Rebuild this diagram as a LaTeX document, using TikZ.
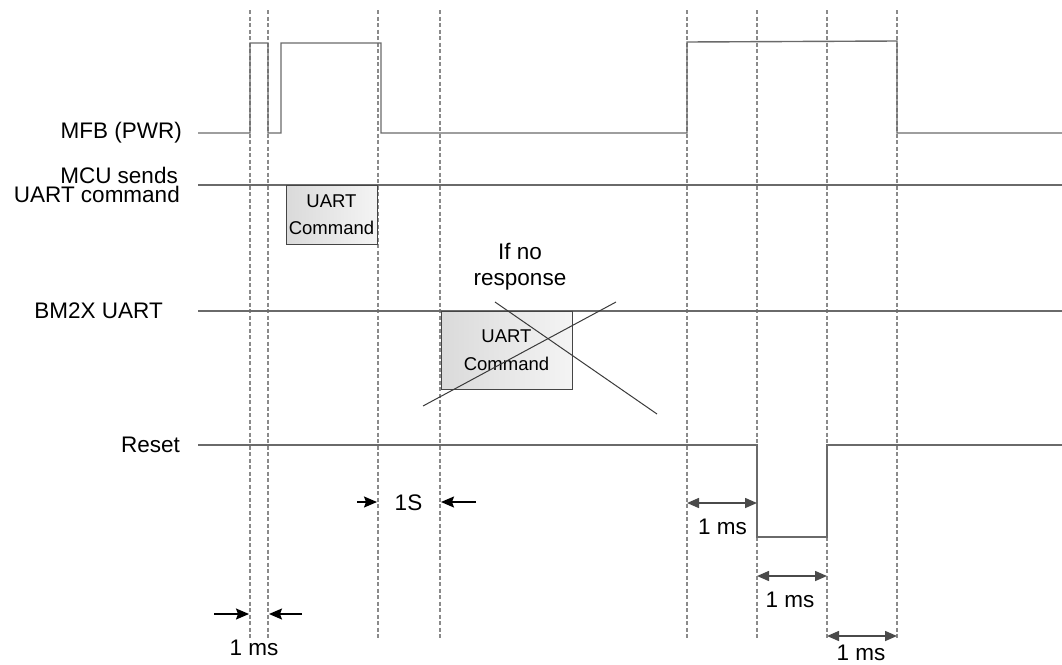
\documentclass[tikz,border=0pt]{standalone}
\usepackage{fontspec}
\setmainfont{Liberation Sans}
\usetikzlibrary{arrows.meta}
\definecolor{sig}{HTML}{6A6A6A}
\definecolor{dsh}{HTML}{8A8A8A}
\definecolor{dimc}{HTML}{4A4A4A}
\definecolor{bxl}{HTML}{DADADA}
\definecolor{bxr}{HTML}{F4F4F4}
\definecolor{bxd}{HTML}{454545}
\definecolor{crs}{HTML}{3A3A3A}
\begin{document}
\begin{tikzpicture}[x=1pt,y=-1pt,
  sigline/.style={draw=sig,line width=1.4pt},
  gridline/.style={draw=dsh,line width=1.3pt,dash pattern=on 4pt off 2.5pt},
  lbl/.style={font=\fontsize{22.5}{19.5}\selectfont,inner sep=0pt,align=right},
  txt/.style={font=\fontsize{22.5}{26}\selectfont,inner sep=0pt,align=center},
  ubox/.style={draw=bxd,line width=1pt,left color=bxl,right color=bxr,
    inner sep=0pt,align=center,font=\fontsize{18.5}{27.5}\selectfont},
  blackarrow/.style={draw=black,line width=1.6pt,-{Stealth[length=13pt,width=11pt,inset=2pt]}},
  dimarrow/.style={draw=dimc,line width=1.5pt,{Triangle[length=12pt,width=10pt]}-{Triangle[length=12pt,width=10pt]}},
  crossline/.style={draw=crs,line width=1pt}]
\useasboundingbox (0,0) rectangle (1062,664);

% vertical time markers
\foreach \n/\x in {t1/250,t2/268,t3/378,t4/440,t5/687,t6/757,t7/827,t8/897}{
  \coordinate (\n top) at (\x,10);
  \coordinate (\n bot) at (\x,640);
  \draw[gridline] (\n top) -- (\n bot);
}

% signal labels
\node[lbl,anchor=east] (lmfb) at (182,133) {MFB (PWR)};
\node[lbl,anchor=base east] (lmcu) at (178,183.5) {MCU sends};
\node[lbl,anchor=base east] (lmcu2) at (180,202) {UART command};
\node[lbl,anchor=east] (lbm) at (163,311) {BM2X UART};
\node[lbl,anchor=east] (lrst) at (180,445) {Reset};

% MFB waveform
\draw[sigline] (198,133) -- (250,133) -- (250,43) -- (268,43) -- (268,133)
  -- (281,133) -- (281,43) -- (381,43) -- (381,133) -- (687,133)
  -- (687,42) -- (897,41) -- (897,133) -- (1062,133);
% MCU sends line
\draw[sigline] (198,185) -- (1062,185);
% BM2X UART line
\draw[sigline] (198,311) -- (1062,311);
% Reset waveform
\draw[sigline] (198,445) -- (757,445) -- (757,537) -- (827,537) -- (827,445) -- (1062,445);

% UART command boxes
\node[ubox,minimum width=91pt,minimum height=59pt] (cmd1) at (331.5,214.5) {UART\\Command};
\node[ubox,minimum width=131pt,minimum height=78pt] (cmd2) at (506.5,350) {UART\\Command};

% no-response cross
\coordinate (xa1) at (423,406);
\coordinate (xa2) at (616,302);
\coordinate (xb1) at (495,302);
\coordinate (xb2) at (657,414);
\draw[crossline] (xa1) -- (xa2);
\draw[crossline] (xb1) -- (xb2);
\node[txt] (noresp) at (520,267) {If no\\response};

% 1S marker
\coordinate (s1a) at (357,502);
\coordinate (s1b) at (377,502);
\coordinate (s2a) at (476,502);
\coordinate (s2b) at (441,502);
\draw[blackarrow] (s1a) -- (s1b);
\draw[blackarrow] (s2a) -- (s2b);
\node[txt] (ones) at (408.5,503) {1S};

% bottom 1 ms marker
\coordinate (m1a) at (214,614);
\coordinate (m1b) at (249,614);
\coordinate (m2a) at (302,614);
\coordinate (m2b) at (269,614);
\draw[blackarrow] (m1a) -- (m1b);
\draw[blackarrow] (m2a) -- (m2b);
\node[txt] (ms0) at (254,648) {1 ms};

% reset dimension arrows
\coordinate (d1a) at (687,503);
\coordinate (d1b) at (757,503);
\coordinate (d2a) at (757,576);
\coordinate (d2b) at (827,576);
\coordinate (d3a) at (827,636);
\coordinate (d3b) at (897,636);
\draw[dimarrow] (d1a) -- (d1b);
\draw[dimarrow] (d2a) -- (d2b);
\draw[dimarrow] (d3a) -- (d3b);
\node[txt] (ms1) at (722.5,527) {1 ms};
\node[txt] (ms2) at (790,600) {1 ms};
\node[txt] (ms3) at (861,653) {1 ms};
\end{tikzpicture}
\end{document}
